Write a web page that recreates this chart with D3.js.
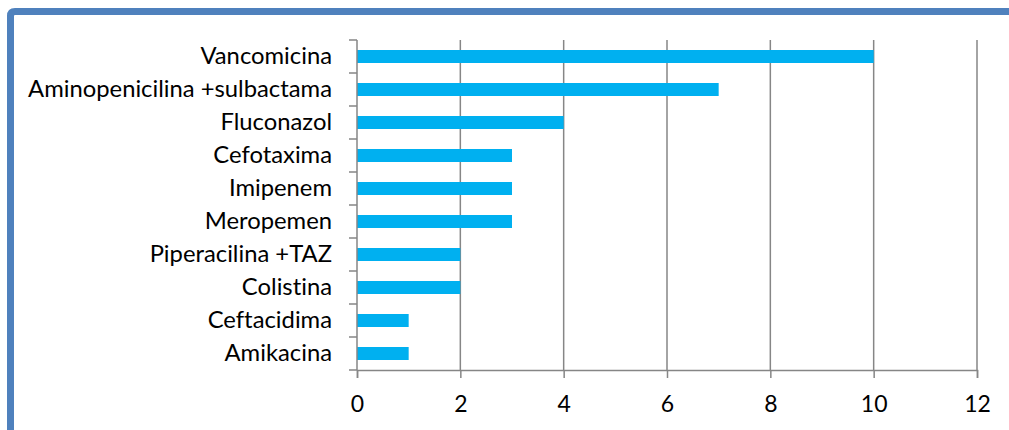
<!DOCTYPE html>
<html>
<head>
<meta charset="utf-8">
<script src="https://cdn.jsdelivr.net/npm/d3@7"></script>
<style>
  html, body { margin: 0; padding: 0; background: #fff; }
  svg { display: block; }
  text { font-variant-ligatures: none; font-feature-settings: "liga" 0; }
</style>
</head>
<body>
<svg id="chart" width="1009" height="430"></svg>
<script>
// Antibiotic / antifungal counts, listed top to bottom
const categories = [
  "Vancomicina",
  "Aminopenicilina +sulbactama",
  "Fluconazol",
  "Cefotaxima",
  "Imipenem",
  "Meropemen",
  "Piperacilina +TAZ",
  "Colistina",
  "Ceftacidima",
  "Amikacina"
];
const values = [10, 7, 4, 3, 3, 3, 2, 2, 1, 1];
const xTicks = [0, 2, 4, 6, 8, 10, 12];

const svg = d3.select("#chart");
const font = "Lato, 'Open Sans', sans-serif";
const fontSize = 23.8;

// Frame: thick blue border on top and left
svg.append("path")
  .attr("d", "M10.5,430 L10.5,16 Q10.5,11.5 15,11.5 L1009,11.5")
  .attr("fill", "none")
  .attr("stroke", "#4F81BD")
  .attr("stroke-width", 7);

const plotLeft = 357, plotRight = 977, plotTop = 40, plotBottom = 370;

const x = d3.scaleLinear().domain([0, 12]).range([plotLeft, plotRight]);
const y = d3.scaleBand().domain(categories).range([plotTop, plotBottom]).paddingInner(0).paddingOuter(0);

// Vertical gridlines
svg.append("g")
  .selectAll("line")
  .data(xTicks.slice(1))
  .join("line")
  .attr("x1", d => x(d)).attr("x2", d => x(d))
  .attr("y1", plotTop).attr("y2", plotBottom)
  .attr("stroke", "#868686")
  .attr("stroke-width", 1.5);

// Bars
const barH = 13;
svg.append("g")
  .selectAll("rect")
  .data(categories)
  .join("rect")
  .attr("x", x(0))
  .attr("y", (d) => y(d) + y.bandwidth() / 2 - barH / 2)
  .attr("width", (d, i) => x(values[i]) - x(0))
  .attr("height", barH)
  .attr("fill", "#00B0F0");

// X axis
const xAxis = svg.append("g")
  .attr("transform", `translate(0,${plotBottom})`)
  .call(d3.axisBottom(x).tickValues(xTicks).tickSize(8).tickFormat(d3.format("d")));
xAxis.select(".domain").attr("stroke", "#868686").attr("stroke-width", 1.5);
xAxis.selectAll(".tick line").attr("stroke", "#868686").attr("stroke-width", 1.5);
xAxis.selectAll("text")
  .attr("y", 42).attr("dy", 0)
  .attr("font-family", font).attr("font-size", 23).attr("fill", "#000");

// Y axis: ticks sit on band boundaries, labels centred in bands
const yG = svg.append("g");
yG.append("line")
  .attr("x1", plotLeft).attr("x2", plotLeft)
  .attr("y1", plotTop).attr("y2", plotBottom)
  .attr("stroke", "#868686").attr("stroke-width", 1.5);
const bounds = categories.map(c => y(c)).concat([plotBottom]);
yG.selectAll("line.tk")
  .data(bounds)
  .join("line")
  .attr("class", "tk")
  .attr("x1", plotLeft - 8).attr("x2", plotLeft)
  .attr("y1", d => d).attr("y2", d => d)
  .attr("stroke", "#868686").attr("stroke-width", 1.5);
yG.selectAll("text")
  .data(categories)
  .join("text")
  .attr("x", plotLeft - 25)
  .attr("y", d => y(d) + y.bandwidth() / 2 + 7.5)
  .attr("text-anchor", "end")
  .attr("font-family", font)
  .attr("font-size", fontSize)
  .attr("fill", "#000")
  .text(d => d);
</script>
</body>
</html>
